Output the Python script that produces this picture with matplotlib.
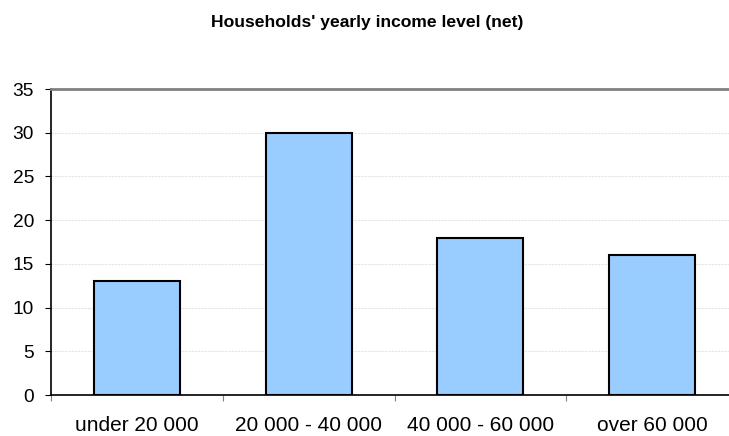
import matplotlib
matplotlib.use("Agg")
import matplotlib.pyplot as plt

categories = ["under 20 000", "20 000 - 40 000", "40 000 - 60 000", "over 60 000"]
values = [13, 30, 18, 16]
yticks = [0, 5, 10, 15, 20, 25, 30, 35]

plt.rcParams['font.family'] = ['Liberation Sans', 'DejaVu Sans']

fig = plt.figure(figsize=(7.29, 4.36), dpi=100)
ax = fig.add_axes([51 / 729, 1 - 395 / 436, (738 - 51) / 729, (395 - 89) / 436])

x = range(len(categories))
ax.bar(x, values, width=0.5, color='#99ccff', edgecolor='black', linewidth=1.5, zorder=3)

ax.set_xlim(-0.5, len(categories) - 0.5)
ax.set_ylim(0, 35)
ax.set_yticks(yticks)
ax.set_yticklabels([str(v) for v in yticks], fontsize=13.8)

# category labels centred, ticks on the boundaries
ax.set_xticks([i - 0.5 for i in range(len(categories) + 1)])
ax.set_xticklabels([])
ax.set_xticks(list(x), minor=True)
ax.set_xticklabels(categories, minor=True, fontsize=15)
ax.tick_params(axis='x', which='minor', length=0, pad=15)
ax.tick_params(axis='x', which='major', length=4.3, color='#808080')
ax.tick_params(axis='y', length=4.3, color='black', pad=8)

ax.yaxis.grid(True, color='#e4e4e4', linestyle=(0, (2, 1)), linewidth=0.8, zorder=0)
ax.set_axisbelow(True)

ax.spines['top'].set_color('#808080')
ax.spines['top'].set_linewidth(2)
ax.spines['right'].set_visible(False)
ax.spines['left'].set_color('black')
ax.spines['left'].set_linewidth(1.2)
ax.spines['bottom'].set_color('black')
ax.spines['bottom'].set_linewidth(1.2)

fig.text(0.504, 1 - 22 / 436, "Households' yearly income level (net)",
         ha='center', va='center', fontsize=12.6, fontweight='bold')

fig.savefig("out.png", dpi=100)
